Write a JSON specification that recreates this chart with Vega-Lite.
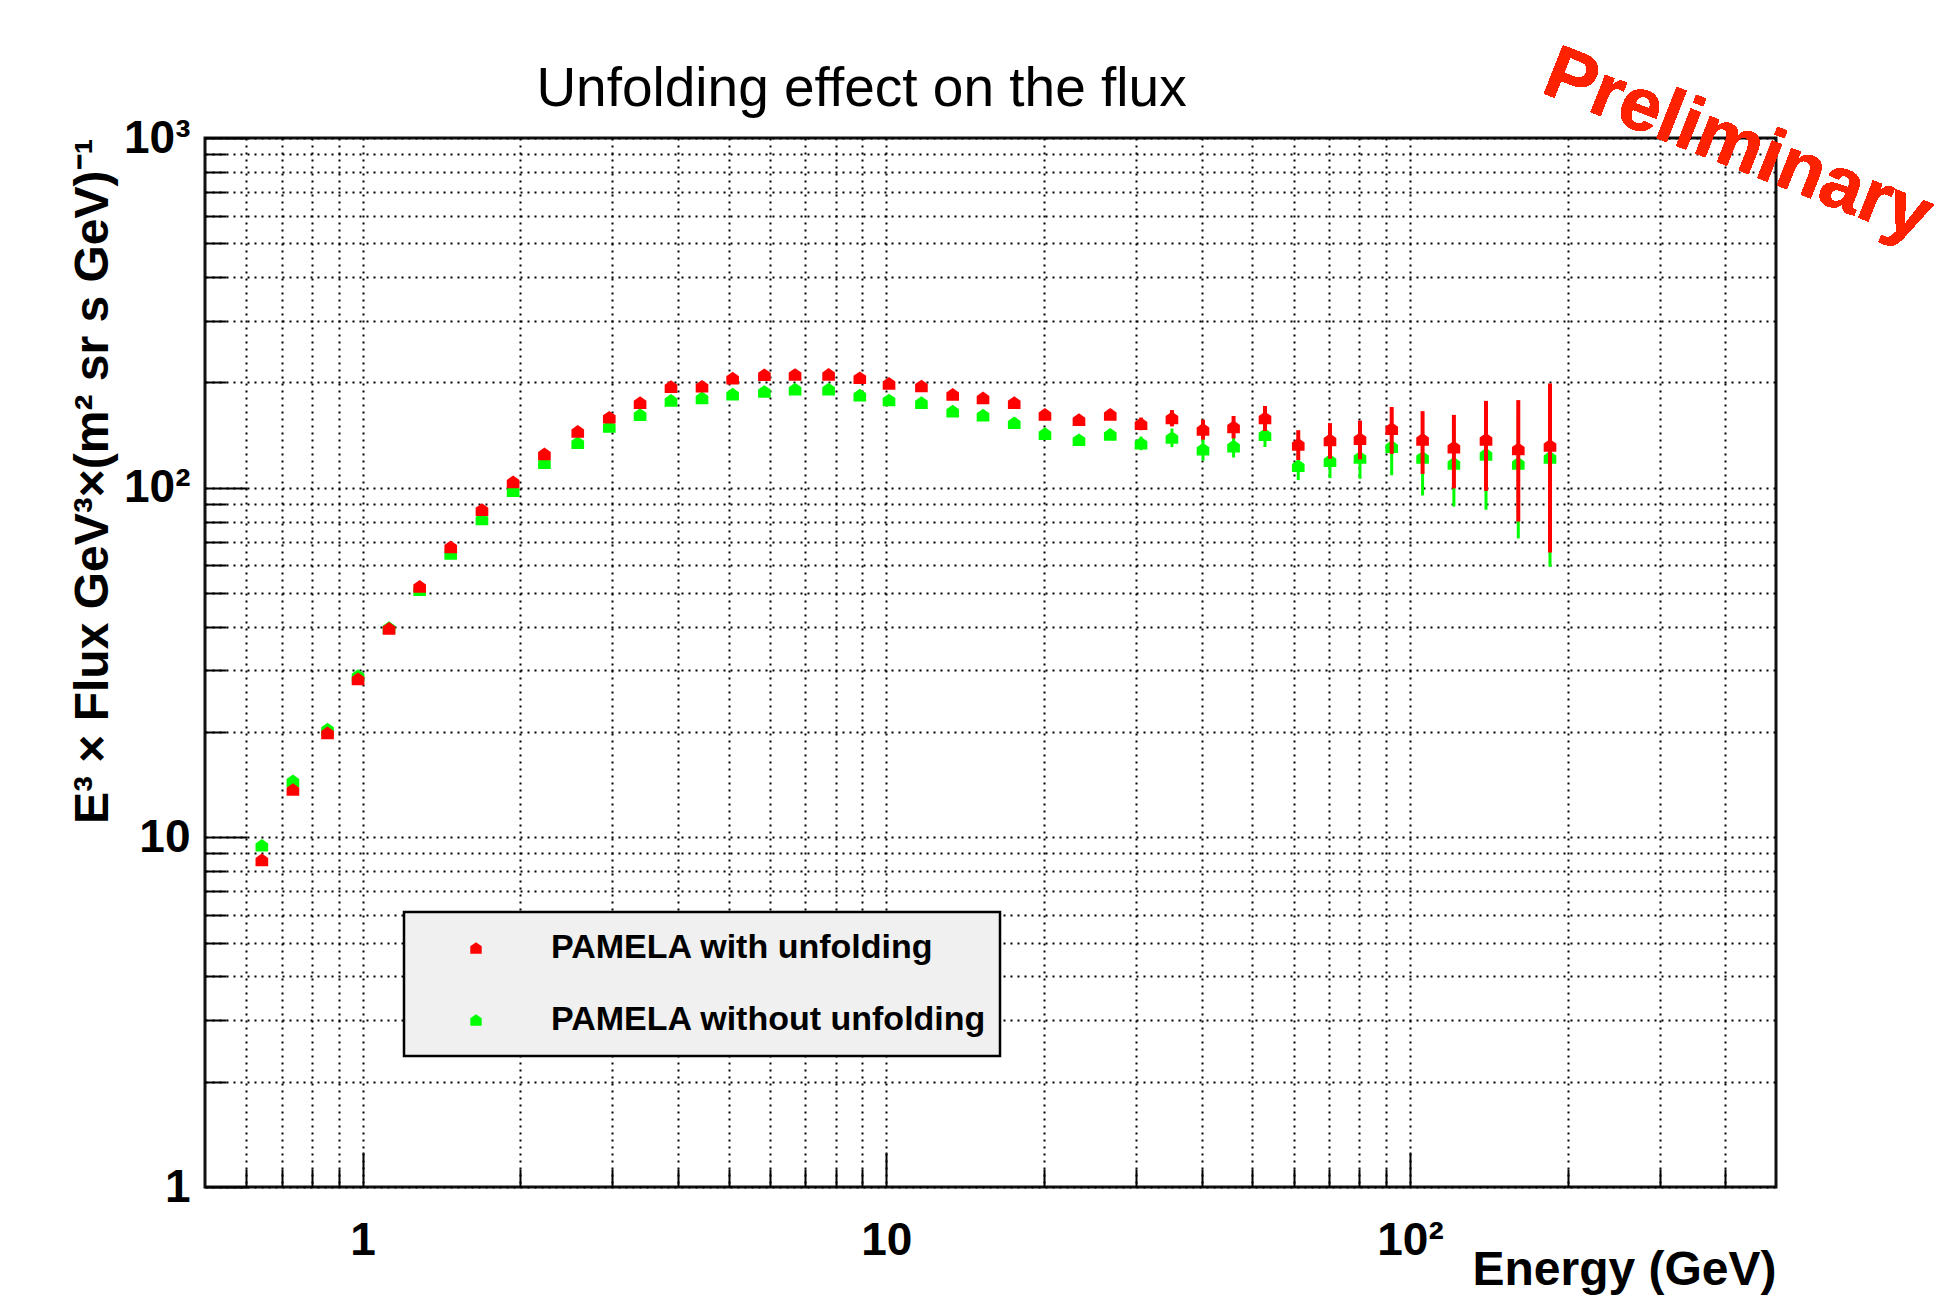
{
  "$schema": "https://vega.github.io/schema/vega-lite/v6.json",
  "width": 1571,
  "height": 1049,
  "autosize": {"type": "none"},
  "padding": {"left": 205, "top": 138, "right": 175, "bottom": 124},
  "background": "white",
  "title": {
    "text": "Unfolding effect on the flux",
    "font": "Liberation Sans",
    "fontSize": 55,
    "fontWeight": "normal",
    "color": "#000",
    "anchor": "middle",
    "dx": -129,
    "baseline": "alphabetic",
    "offset": -125
  },
  "config": {
    "font": "Liberation Sans",
    "view": {"stroke": "#111", "strokeWidth": 3},
    "legend": {
      "orient": "none",
      "legendX": 199,
      "legendY": 774,
      "fillColor": "#f0f0f0",
      "strokeColor": "#000",
      "strokeWidth": 2.5,
      "padding": 13,
      "symbolOffset": 42,
      "labelOffset": 58,
      "clipHeight": 46,
      "rowPadding": 26,
      "labelFont": "Liberation Sans",
      "labelFontSize": 34,
      "labelFontWeight": "bold",
      "labelColor": "#000",
      "labelLimit": 0,
      "symbolType": "M0,-1L1,-0.3L1,1L-1,1L-1,-0.3Z",
      "symbolSize": 130,
      "symbolStrokeWidth": 0
    }
  },
  "data": {
    "values": [
      {"energy": 0.642, "series": "PAMELA with unfolding", "flux": 8.62, "error": 0.15},
      {"energy": 0.736, "series": "PAMELA with unfolding", "flux": 13.7, "error": 0.2},
      {"energy": 0.857, "series": "PAMELA with unfolding", "flux": 19.9, "error": 0.25},
      {"energy": 0.980, "series": "PAMELA with unfolding", "flux": 28.4, "error": 0.3},
      {"energy": 1.123, "series": "PAMELA with unfolding", "flux": 39.6, "error": 0.4},
      {"energy": 1.285, "series": "PAMELA with unfolding", "flux": 52.2, "error": 0.5},
      {"energy": 1.473, "series": "PAMELA with unfolding", "flux": 67.7, "error": 0.6},
      {"energy": 1.690, "series": "PAMELA with unfolding", "flux": 86.5, "error": 0.7},
      {"energy": 1.938, "series": "PAMELA with unfolding", "flux": 103.9, "error": 0.8},
      {"energy": 2.224, "series": "PAMELA with unfolding", "flux": 124.9, "error": 0.9},
      {"energy": 2.575, "series": "PAMELA with unfolding", "flux": 144.9, "error": 1.0},
      {"energy": 2.958, "series": "PAMELA with unfolding", "flux": 159.0, "error": 1.1},
      {"energy": 3.387, "series": "PAMELA with unfolding", "flux": 175.0, "error": 1.2},
      {"energy": 3.880, "series": "PAMELA with unfolding", "flux": 194.5, "error": 1.4},
      {"energy": 4.447, "series": "PAMELA with unfolding", "flux": 195.0, "error": 1.5},
      {"energy": 5.088, "series": "PAMELA with unfolding", "flux": 205.7, "error": 1.7},
      {"energy": 5.851, "series": "PAMELA with unfolding", "flux": 210.4, "error": 1.9},
      {"energy": 6.695, "series": "PAMELA with unfolding", "flux": 210.7, "error": 2.1},
      {"energy": 7.759, "series": "PAMELA with unfolding", "flux": 210.9, "error": 2.4},
      {"energy": 8.900, "series": "PAMELA with unfolding", "flux": 206.2, "error": 2.6},
      {"energy": 10.12, "series": "PAMELA with unfolding", "flux": 198.8, "error": 2.9},
      {"energy": 11.67, "series": "PAMELA with unfolding", "flux": 195.3, "error": 3.2},
      {"energy": 13.39, "series": "PAMELA with unfolding", "flux": 184.9, "error": 3.4},
      {"energy": 15.30, "series": "PAMELA with unfolding", "flux": 180.7, "error": 3.7},
      {"energy": 17.55, "series": "PAMELA with unfolding", "flux": 175.0, "error": 4.0},
      {"energy": 20.09, "series": "PAMELA with unfolding", "flux": 162.1, "error": 4.4},
      {"energy": 23.33, "series": "PAMELA with unfolding", "flux": 156.5, "error": 4.9},
      {"energy": 26.77, "series": "PAMELA with unfolding", "flux": 162.1, "error": 5.6},
      {"energy": 30.65, "series": "PAMELA with unfolding", "flux": 152.3, "error": 6.3},
      {"energy": 35.11, "series": "PAMELA with unfolding", "flux": 158.2, "error": 8.5},
      {"energy": 40.25, "series": "PAMELA with unfolding", "flux": 146.8, "error": 9.6},
      {"energy": 46.04, "series": "PAMELA with unfolding", "flux": 149.3, "error": 11},
      {"energy": 52.86, "series": "PAMELA with unfolding", "flux": 158.2, "error": 13},
      {"energy": 61.19, "series": "PAMELA with unfolding", "flux": 133.0, "error": 13},
      {"energy": 70.35, "series": "PAMELA with unfolding", "flux": 137.0, "error": 16},
      {"energy": 80.27, "series": "PAMELA with unfolding", "flux": 138.0, "error": 17.5},
      {"energy": 92.28, "series": "PAMELA with unfolding", "flux": 147.5, "error": 22.6},
      {"energy": 105.7, "series": "PAMELA with unfolding", "flux": 137.5, "error": 28},
      {"energy": 121.3, "series": "PAMELA with unfolding", "flux": 130.5, "error": 31},
      {"energy": 139.7, "series": "PAMELA with unfolding", "flux": 137.5, "error": 39.6},
      {"energy": 161.0, "series": "PAMELA with unfolding", "flux": 129.0, "error": 49},
      {"energy": 185.1, "series": "PAMELA with unfolding", "flux": 132.0, "error": 66.7},
      {"energy": 0.642, "series": "PAMELA without unfolding", "flux": 9.49, "error": 0.15},
      {"energy": 0.736, "series": "PAMELA without unfolding", "flux": 14.5, "error": 0.2},
      {"energy": 0.857, "series": "PAMELA without unfolding", "flux": 20.4, "error": 0.25},
      {"energy": 0.980, "series": "PAMELA without unfolding", "flux": 29.0, "error": 0.3},
      {"energy": 1.123, "series": "PAMELA without unfolding", "flux": 39.8, "error": 0.4},
      {"energy": 1.285, "series": "PAMELA without unfolding", "flux": 51.1, "error": 0.5},
      {"energy": 1.473, "series": "PAMELA without unfolding", "flux": 64.9, "error": 0.6},
      {"energy": 1.690, "series": "PAMELA without unfolding", "flux": 81.4, "error": 0.7},
      {"energy": 1.938, "series": "PAMELA without unfolding", "flux": 98.0, "error": 0.8},
      {"energy": 2.224, "series": "PAMELA without unfolding", "flux": 117.9, "error": 0.9},
      {"energy": 2.575, "series": "PAMELA without unfolding", "flux": 134.4, "error": 1.0},
      {"energy": 2.958, "series": "PAMELA without unfolding", "flux": 149.7, "error": 1.0},
      {"energy": 3.387, "series": "PAMELA without unfolding", "flux": 161.8, "error": 1.1},
      {"energy": 3.880, "series": "PAMELA without unfolding", "flux": 177.7, "error": 1.3},
      {"energy": 4.447, "series": "PAMELA without unfolding", "flux": 180.6, "error": 1.4},
      {"energy": 5.088, "series": "PAMELA without unfolding", "flux": 185.2, "error": 1.6},
      {"energy": 5.851, "series": "PAMELA without unfolding", "flux": 188.4, "error": 1.8},
      {"energy": 6.695, "series": "PAMELA without unfolding", "flux": 191.3, "error": 2.0},
      {"energy": 7.759, "series": "PAMELA without unfolding", "flux": 191.4, "error": 2.2},
      {"energy": 8.900, "series": "PAMELA without unfolding", "flux": 184.0, "error": 2.4},
      {"energy": 10.12, "series": "PAMELA without unfolding", "flux": 178.1, "error": 2.7},
      {"energy": 11.67, "series": "PAMELA without unfolding", "flux": 175.0, "error": 3.0},
      {"energy": 13.39, "series": "PAMELA without unfolding", "flux": 165.6, "error": 3.2},
      {"energy": 15.30, "series": "PAMELA without unfolding", "flux": 161.3, "error": 3.5},
      {"energy": 17.55, "series": "PAMELA without unfolding", "flux": 153.3, "error": 3.8},
      {"energy": 20.09, "series": "PAMELA without unfolding", "flux": 142.8, "error": 4.0},
      {"energy": 23.33, "series": "PAMELA without unfolding", "flux": 137.1, "error": 4.4},
      {"energy": 26.77, "series": "PAMELA without unfolding", "flux": 142.0, "error": 5.0},
      {"energy": 30.65, "series": "PAMELA without unfolding", "flux": 134.0, "error": 6.0},
      {"energy": 35.11, "series": "PAMELA without unfolding", "flux": 139.1, "error": 8.5},
      {"energy": 40.25, "series": "PAMELA without unfolding", "flux": 128.8, "error": 9.3},
      {"energy": 46.04, "series": "PAMELA without unfolding", "flux": 131.5, "error": 9.5},
      {"energy": 52.86, "series": "PAMELA without unfolding", "flux": 141.7, "error": 11},
      {"energy": 61.19, "series": "PAMELA without unfolding", "flux": 115.5, "error": 10.4},
      {"energy": 70.35, "series": "PAMELA without unfolding", "flux": 119.5, "error": 13},
      {"energy": 80.27, "series": "PAMELA without unfolding", "flux": 122.0, "error": 16},
      {"energy": 92.28, "series": "PAMELA without unfolding", "flux": 131.0, "error": 22.5},
      {"energy": 105.7, "series": "PAMELA without unfolding", "flux": 122.0, "error": 27},
      {"energy": 121.3, "series": "PAMELA without unfolding", "flux": 117.3, "error": 29},
      {"energy": 139.7, "series": "PAMELA without unfolding", "flux": 124.5, "error": 38},
      {"energy": 161.0, "series": "PAMELA without unfolding", "flux": 117.3, "error": 45.7},
      {"energy": 185.1, "series": "PAMELA without unfolding", "flux": 122.1, "error": 62.7}
    ]
  },
  "layer": [
    {
      "transform": [{"filter": "datum.series == 'PAMELA without unfolding'"}],
      "mark": {"type": "errorbar", "ticks": false, "thickness": 3, "color": "#00ff00"},
      "encoding": {
        "x": {
          "field": "energy", "type": "quantitative",
          "scale": {"type": "log", "domain": [0.5, 500], "nice": false},
          "axis": {
            "orient": "bottom",
            "values": [0.6, 0.7, 0.8, 0.9, 2, 3, 4, 5, 6, 7, 8, 9, 20, 30, 40, 50, 60, 70, 80, 90, 200, 300, 400],
            "labels": false, "title": null, "domain": false,
            "ticks": true, "tickSize": -18, "tickWidth": 2, "tickColor": "#000",
            "grid": true, "gridColor": "#000", "gridDash": [2, 5], "gridWidth": 2, "gridOpacity": 1
          }
        },
        "y": {
          "field": "flux", "type": "quantitative",
          "scale": {"type": "log", "domain": [1, 1000], "nice": false},
          "axis": {
            "orient": "left",
            "values": [2, 3, 4, 5, 6, 7, 8, 9, 20, 30, 40, 50, 60, 70, 80, 90, 200, 300, 400, 500, 600, 700, 800, 900],
            "labels": false, "title": null, "domain": false,
            "ticks": true, "tickSize": -21, "tickWidth": 2, "tickColor": "#000",
            "grid": true, "gridColor": "#000", "gridDash": [2, 5], "gridWidth": 2, "gridOpacity": 1
          }
        },
        "yError": {"field": "error"}
      }
    },
    {
      "transform": [{"filter": "datum.series == 'PAMELA without unfolding'"}],
      "mark": {"type": "point", "filled": true, "opacity": 1, "size": 160, "shape": "M0,-1L1,-0.3L1,1L-1,1L-1,-0.3Z"},
      "encoding": {
        "x": {
          "field": "energy", "type": "quantitative",
          "scale": {"type": "log", "domain": [0.5, 500], "nice": false},
          "axis": {
            "orient": "bottom",
            "values": [1, 10, 100],
            "labelExpr": "datum.value == 100 ? '10²' : datum.value == 10 ? '10' : '1'",
            "labelFont": "Liberation Sans", "labelFontSize": 46, "labelFontWeight": "bold", "labelColor": "#000",
            "labelPadding": 66, "labelBaseline": "top",
            "domain": false, "ticks": true, "tickSize": -35, "tickWidth": 2, "tickColor": "#000",
            "grid": true, "gridColor": "#000", "gridDash": [2, 5], "gridWidth": 2, "gridOpacity": 1,
            "title": "Energy (GeV)",
            "titleFont": "Liberation Sans", "titleFontSize": 48, "titleFontWeight": "bold", "titleColor": "#000",
            "titleAnchor": "end", "titleAlign": "right", "titleBaseline": "alphabetic",
            "titleX": 1571, "titleY": 97
          }
        },
        "y": {
          "field": "flux", "type": "quantitative",
          "scale": {"type": "log", "domain": [1, 1000], "nice": false},
          "axis": {
            "orient": "left",
            "values": [1, 10, 100, 1000],
            "labelExpr": "datum.value == 1000 ? '10³' : datum.value == 100 ? '10²' : datum.value == 10 ? '10' : '1'",
            "labelFont": "Liberation Sans", "labelFontSize": 46, "labelFontWeight": "bold", "labelColor": "#000",
            "labelPadding": 57,
            "domain": false, "ticks": true, "tickSize": -42, "tickWidth": 2, "tickColor": "#000",
            "grid": true, "gridColor": "#000", "gridDash": [2, 5], "gridWidth": 2, "gridOpacity": 1,
            "title": "E³ × Flux GeV³×(m² sr s GeV)⁻¹",
            "titleFont": "Liberation Sans", "titleFontSize": 48, "titleFontWeight": "bold", "titleColor": "#000",
            "titleAnchor": "end", "titleAngle": 270, "titleAlign": "right", "titleBaseline": "middle",
            "titleX": -112, "titleY": 0
          }
        },
        "color": {
          "field": "series", "type": "nominal",
          "scale": {"domain": ["PAMELA with unfolding", "PAMELA without unfolding"], "range": ["#ff0000", "#00ff00"]},
          "legend": {"title": null}
        }
      }
    },
    {
      "transform": [{"filter": "datum.series == 'PAMELA with unfolding'"}],
      "mark": {"type": "errorbar", "ticks": false, "thickness": 4, "color": "#ff0000"},
      "encoding": {
        "x": {"field": "energy", "type": "quantitative", "axis": null},
        "y": {"field": "flux", "type": "quantitative", "axis": null},
        "yError": {"field": "error"}
      }
    },
    {
      "transform": [{"filter": "datum.series == 'PAMELA with unfolding'"}],
      "mark": {"type": "point", "filled": true, "opacity": 1, "size": 160, "shape": "M0,-1L1,-0.3L1,1L-1,1L-1,-0.3Z"},
      "encoding": {
        "x": {"field": "energy", "type": "quantitative", "axis": null},
        "y": {"field": "flux", "type": "quantitative", "axis": null},
        "color": {"field": "series", "type": "nominal", "legend": {"title": null}}
      }
    },
    {
      "mark": {
        "type": "text", "text": "Preliminary",
        "font": "Liberation Sans", "fontSize": 75, "fontWeight": "bold",
        "color": "#ff2200", "angle": 21.5, "align": "center", "baseline": "middle"
      },
      "encoding": {
        "x": {"datum": 423, "type": "quantitative", "axis": null},
        "y": {"datum": 954, "type": "quantitative", "axis": null}
      }
    }
  ],
  "resolve": {"axis": {"x": "independent", "y": "independent"}}
}
